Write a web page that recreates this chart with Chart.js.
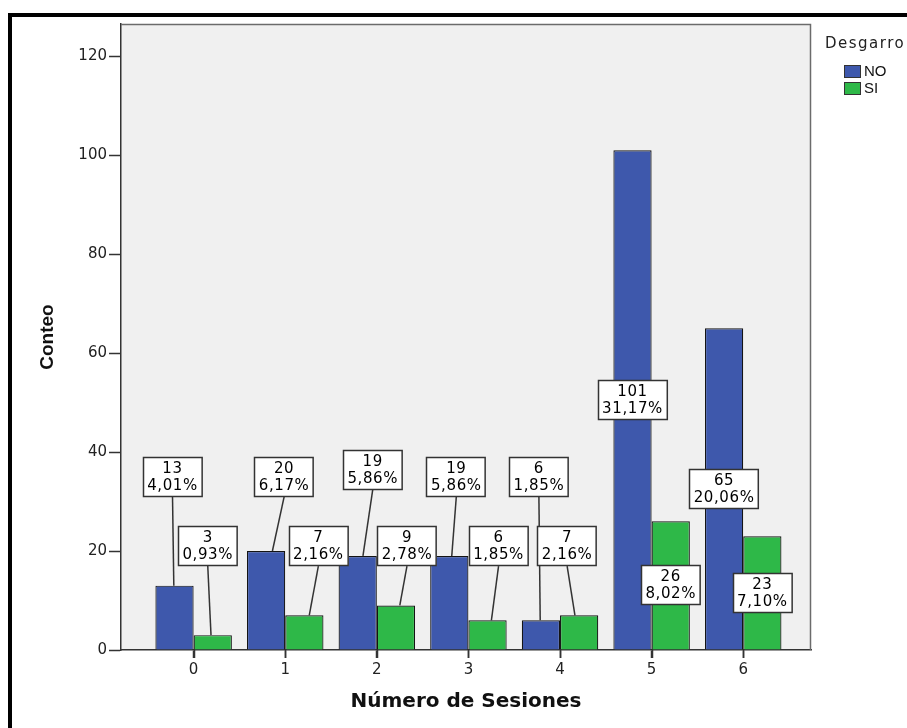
<!DOCTYPE html>
<html>
<head>
<meta charset="utf-8">
<script src="https://cdn.jsdelivr.net/npm/chart.js@4.4.0/dist/chart.umd.min.js"></script>
<style>
  html, body { margin: 0; padding: 0; background: #fff; overflow: hidden; }
  #frame { position: absolute; left: 8px; top: 13px; width: 1000px; height: 1000px; border: 4px solid #000; }
  #myChart { position: absolute; left: 0; top: 0; }
</style>
</head>
<body>
<div id="frame"></div>
<canvas id="myChart" width="907" height="728"></canvas>
<script>
var categories = ['0', '1', '2', '3', '4', '5', '6'];
var noCounts = [13, 20, 19, 19, 6, 101, 65];
var siCounts = [3, 7, 9, 6, 7, 26, 23];
var yTicks = [0, 20, 40, 60, 80, 100, 120];
var total = noCounts.concat(siCounts).reduce(function (a, b) { return a + b; }, 0);

// where the label boxes sit (value on the y axis, null = middle of the bar)
var noLabelAt = [35, 35, 36.4, 35, 35, null, null];
var siLabelAt = [21, 21, 21, 21, 21, null, null];
var noLabelDx = [-2, 18, 15, 7, -2, 0, 0];
var siLabelDx = [-5, 14, 11, 11, -12, 0, 0];

var plotBg = {
    id: 'plotBg',
    beforeDraw: function (chart) {
        var a = chart.chartArea, ctx = chart.ctx;
        ctx.save();
        ctx.fillStyle = '#f0f0f0';
        ctx.fillRect(a.left, a.top, a.right - a.left, a.bottom - a.top);
        ctx.restore();
    },
    afterDraw: function (chart) {
        var a = chart.chartArea, ctx = chart.ctx, xs = chart.scales.x;
        ctx.save();
        ctx.strokeStyle = '#6b6b6b';
        ctx.lineWidth = 1.5;
        ctx.beginPath();
        ctx.moveTo(a.left, a.top + 0.5);
        ctx.lineTo(a.right - 0.5, a.top + 0.5);
        ctx.lineTo(a.right - 0.5, a.bottom);
        ctx.stroke();

        // category tick marks under the x axis
        ctx.strokeStyle = '#333';
        ctx.lineWidth = 1.5;
        ctx.beginPath();
        categories.forEach(function (c, i) {
            var px = Math.round(xs.getPixelForValue(i)) + 0.5;
            ctx.moveTo(px, a.bottom);
            ctx.lineTo(px, a.bottom + 8);
        });
        ctx.stroke();

        // legend
        ctx.fillStyle = '#222';
        ctx.font = '15px "DejaVu Sans"';
        ctx.letterSpacing = '1.5px';
        ctx.textBaseline = 'middle';
        ctx.fillText('Desgarro', 825, 44);
        ctx.letterSpacing = '0px';
        ctx.font = '15px "Liberation Sans"';
        var items = [['NO', '#3e58ac'], ['SI', '#2eb848']];
        items.forEach(function (it, k) {
            var y = 65 + k * 17;
            ctx.fillStyle = it[1];
            ctx.fillRect(844, y, 17, 13);
            ctx.strokeStyle = '#333';
            ctx.lineWidth = 1;
            ctx.strokeRect(844.5, y + 0.5, 16, 12);
            ctx.fillStyle = '#111';
            ctx.fillText(it[0], 864, y + 7);
        });
        ctx.restore();
    }
};

var barLabels = {
    id: 'barLabels',
    afterDatasetsDraw: function (chart) {
        var ctx = chart.ctx, yScale = chart.scales.y;
        ctx.save();
        ctx.font = '15px "DejaVu Sans"';
        ctx.letterSpacing = '0.6px';
        ctx.textAlign = 'center';
        ctx.textBaseline = 'middle';
        chart.data.datasets.forEach(function (ds, di) {
            var meta = chart.getDatasetMeta(di);
            meta.data.forEach(function (bar, i) {
                var v = ds.data[i].y;
                var lines = [String(v), (v / total * 100).toFixed(2).replace('.', ',') + '%'];
                var w = Math.max(ctx.measureText(lines[0]).width, ctx.measureText(lines[1]).width) + 9;
                var h = 40;
                var cx, cy;
                if (ds.labelAt[i] === null) {
                    cx = bar.x;
                    cy = (bar.y + bar.base) / 2;
                } else {
                    cx = bar.x + ds.labelDx[i];
                    cy = yScale.getPixelForValue(ds.labelAt[i]);
                    ctx.strokeStyle = '#333';
                    ctx.lineWidth = 1.5;
                    ctx.beginPath();
                    ctx.moveTo(cx, cy + h / 2);
                    ctx.lineTo(bar.x + (cx - bar.x) * 0.35, bar.y);
                    ctx.stroke();
                }
                var x0 = Math.round(cx - w / 2), y0 = Math.round(cy - h / 2);
                ctx.fillStyle = '#fff';
                ctx.fillRect(x0, y0, w, h);
                ctx.strokeStyle = '#333';
                ctx.lineWidth = 1.5;
                ctx.strokeRect(x0 + 0.5, y0 + 0.5, w - 1, h - 1);
                ctx.fillStyle = '#000';
                ctx.fillText(lines[0], cx, cy - 8);
                ctx.fillText(lines[1], cx, cy + 9);
            });
        });
        ctx.restore();
    }
};

var ctx = document.getElementById('myChart').getContext('2d');
var myChart = new Chart(ctx, {
    type: 'bar',
    data: {
        datasets: [
            {
                label: 'NO',
                data: noCounts.map(function (v, i) { return { x: i, y: v }; }),
                backgroundColor: '#3e58ac',
                borderColor: '#141414',
                borderWidth: 1.2,
                labelAt: noLabelAt,
                labelDx: noLabelDx,
            },
            {
                label: 'SI',
                data: siCounts.map(function (v, i) { return { x: i, y: v }; }),
                backgroundColor: '#2eb848',
                borderColor: '#141414',
                borderWidth: 1.2,
                labelAt: siLabelAt,
                labelDx: siLabelDx,
            },
        ],
    },
    options: {
        responsive: false,
        animation: false,
        categoryPercentage: 0.835,
        barPercentage: 1.0,
        layout: { padding: { left: 0, top: 24, right: 96, bottom: 0 } },
        plugins: {
            legend: { display: false },
            tooltip: { enabled: false },
        },
        scales: {
            x: {
                type: 'linear',
                min: -0.793,
                max: 6.74,
                offset: false,
                afterBuildTicks: function (s) {
                    s.ticks = categories.map(function (c, i) { return { value: i }; });
                },
                afterFit: function (s) { s.height = 78; },
                grid: { offset: false, drawOnChartArea: false, tickLength: 8, tickColor: '#333', tickWidth: 1.5 },
                border: { color: '#333', width: 1.5 },
                ticks: {
                    padding: 3,
                    color: '#222',
                    font: { family: 'DejaVu Sans', size: 15 },
                    callback: function (v) { return categories[v]; },
                },
                title: {
                    display: true,
                    text: 'Número de Sesiones',
                    color: '#111',
                    font: { family: 'DejaVu Sans', size: 20, weight: 'bold' },
                    padding: { top: 0, bottom: 14 },
                },
            },
            y: {
                min: 0,
                max: 126.5,
                afterBuildTicks: function (s) {
                    s.ticks = yTicks.map(function (v) { return { value: v }; });
                },
                afterFit: function (s) { s.width = 121; },
                grid: { drawOnChartArea: false, tickLength: 12, tickColor: '#333', tickWidth: 1.5 },
                border: { color: '#333', width: 1.5 },
                ticks: {
                    padding: 2,
                    color: '#222',
                    font: { family: 'DejaVu Sans', size: 15 },
                },
                title: {
                    display: true,
                    text: 'Conteo',
                    color: '#111',
                    font: { family: 'Liberation Sans', size: 19, weight: 'bold' },
                    padding: { top: 36, bottom: 0 },
                },
            },
        },
    },
    plugins: [plotBg, barLabels],
});
</script>
</body>
</html>
